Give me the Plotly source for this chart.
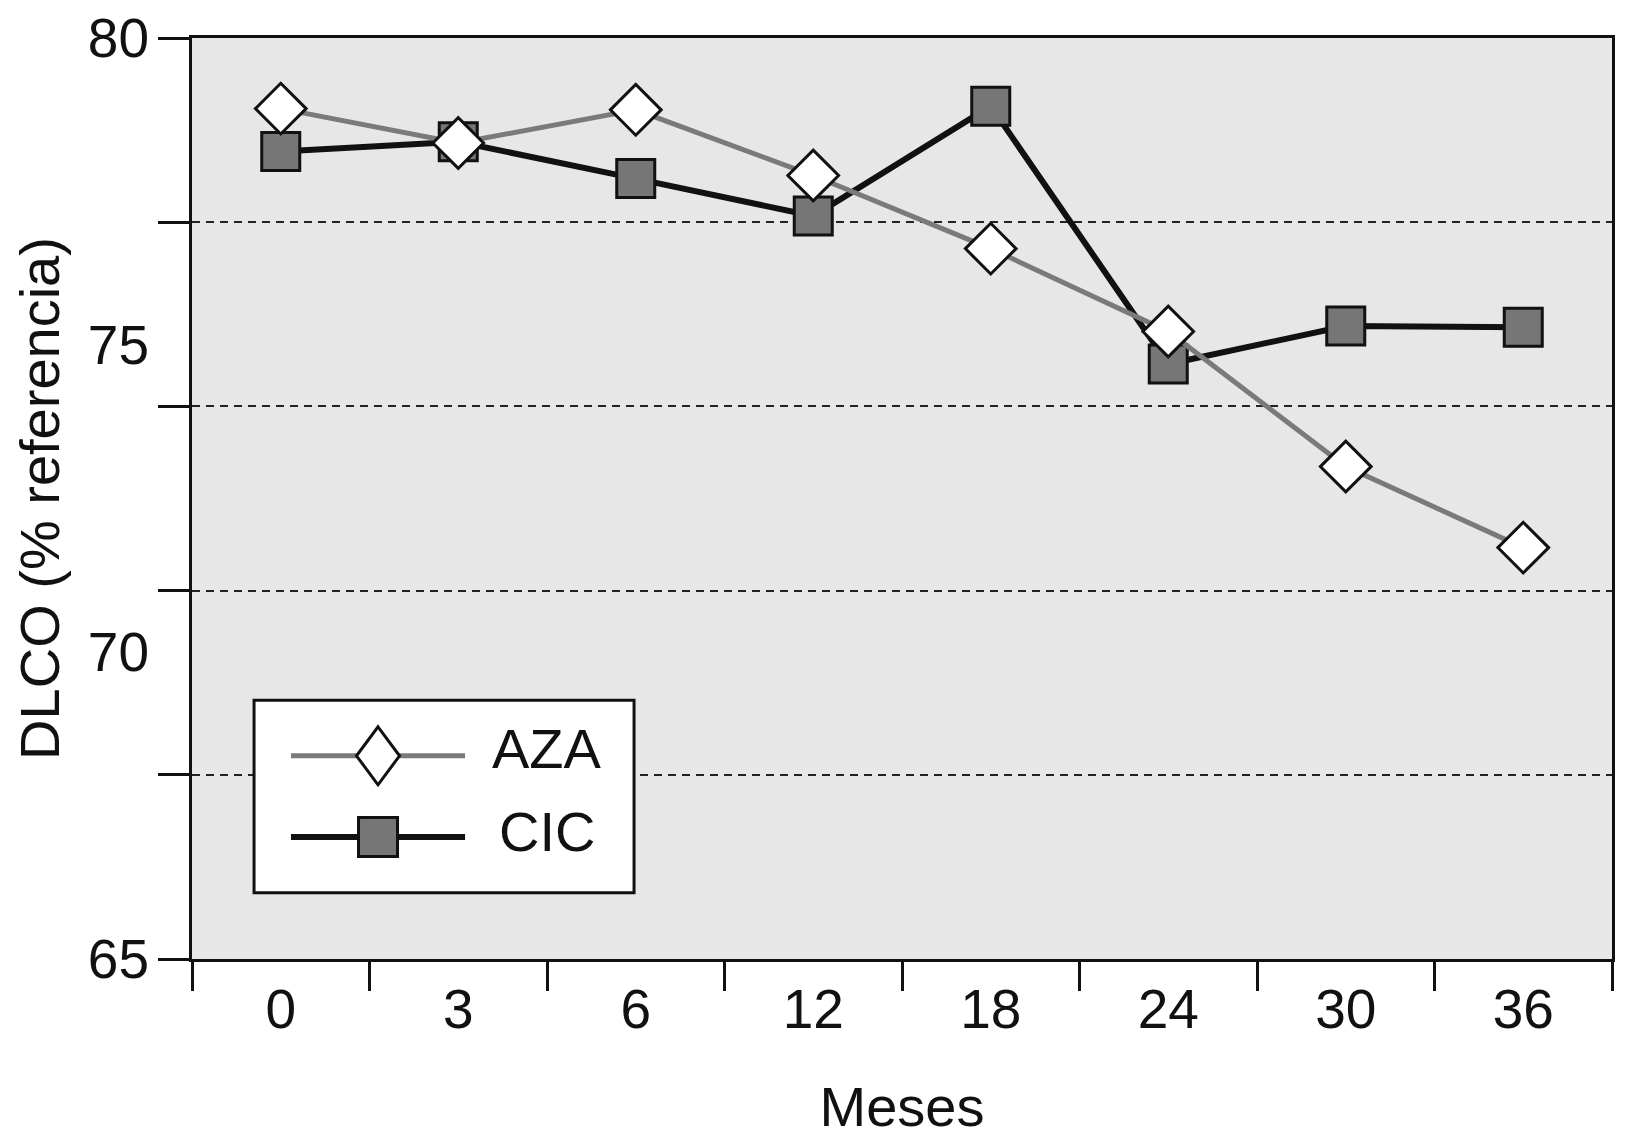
import plotly.graph_objects as go

# ---- data ----
months = ["0", "3", "6", "12", "18", "24", "30", "36"]
aza = [78.85, 78.29, 78.83, 77.76, 76.57, 75.22, 73.02, 71.70]
cic = [78.15, 78.31, 77.71, 77.10, 78.89, 74.69, 75.31, 75.29]
y_grid_vals = [65, 68, 71, 74, 77, 80]
y_label_vals = [65, 70, 75, 80]
y_label_text = ["65", "70", "75", "80"]

FONT = "Liberation Sans, Arial, Helvetica, sans-serif"
INK = "#111111"

fig = go.Figure()

fig.add_trace(go.Scatter(
    x=months, y=cic, name="CIC", mode="lines+markers",
    line=dict(color=INK, width=6),
    marker=dict(symbol="square", size=38, color="#767676",
                line=dict(color=INK, width=3)),
    showlegend=False,
))
fig.add_trace(go.Scatter(
    x=months, y=aza, name="AZA", mode="lines+markers", yaxis="y2",
    line=dict(color="#7a7a7a", width=5),
    marker=dict(symbol="diamond", size=39, color="white",
                line=dict(color=INK, width=3)),
    showlegend=False,
))

# ---- custom legend (box, sample lines, symbols, labels) ----
box = dict(x0=0.0437, x1=0.3113, y0=0.0719, y1=0.2809)
leg_x0, leg_x1, leg_xm = 0.0697, 0.1923, 0.131
aza_y, cic_y = 0.2206, 0.1325
shapes = [
    dict(type="rect", xref="paper", yref="paper", **box,
         fillcolor="white", line=dict(color=INK, width=3), layer="above"),
    dict(type="line", xref="paper", yref="paper", x0=leg_x0, x1=leg_x1,
         y0=aza_y, y1=aza_y, line=dict(color="#7a7a7a", width=5)),
    dict(type="line", xref="paper", yref="paper", x0=leg_x0, x1=leg_x1,
         y0=cic_y, y1=cic_y, line=dict(color=INK, width=6)),
    dict(type="path", xref="paper", yref="paper", xsizemode="pixel", ysizemode="pixel",
         xanchor=leg_xm, yanchor=aza_y,
         path="M0,29 L21.5,0 L0,-29 L-21.5,0 Z",
         fillcolor="white", line=dict(color=INK, width=3)),
    dict(type="path", xref="paper", yref="paper", xsizemode="pixel", ysizemode="pixel",
         xanchor=leg_xm, yanchor=cic_y,
         path="M-19.5,-19.5 L19.5,-19.5 L19.5,19.5 L-19.5,19.5 Z",
         fillcolor="#767676", line=dict(color=INK, width=3)),
]
annotations = [
    dict(text="AZA", xref="paper", yref="paper", x=0.25, y=aza_y + 0.008,
         xanchor="center", yanchor="middle", showarrow=False,
         font=dict(size=56, color=INK, family=FONT)),
    dict(text="CIC", xref="paper", yref="paper", x=0.25, y=cic_y + 0.006,
         xanchor="center", yanchor="middle", showarrow=False,
         font=dict(size=56, color=INK, family=FONT)),
]

fig.update_layout(
    width=1625, height=1147,
    margin=dict(l=184, r=21, t=30, b=196),
    paper_bgcolor="white",
    plot_bgcolor="#e7e7e7",
    font=dict(family=FONT, color=INK, size=54),
    shapes=shapes,
    annotations=annotations,
    xaxis=dict(
        type="category", categoryorder="array", categoryarray=months,
        range=[-0.5, 7.5], automargin=False,
        showline=True, linecolor=INK, linewidth=3, mirror=True,
        ticks="outside", tickson="boundaries", ticklen=29, tickwidth=3, tickcolor=INK,
        showgrid=False, zeroline=False,
        tickfont=dict(size=55),
        title=dict(text="Meses", font=dict(size=56), standoff=48),
    ),
    yaxis=dict(
        range=[65, 80], tickmode="array", tickvals=y_grid_vals,
        showticklabels=False, automargin=False,
        ticks="outside", ticklen=31, tickwidth=3, tickcolor=INK,
        showgrid=True, gridcolor="#222222", gridwidth=1.5, griddash="8px,6px",
        showline=True, linecolor=INK, linewidth=3, mirror=True, zeroline=False,
    ),
    yaxis2=dict(
        overlaying="y", side="left", range=[65, 80], automargin=False,
        tickmode="array", tickvals=y_label_vals, ticktext=y_label_text,
        ticks="outside", ticklen=31, tickcolor="rgba(0,0,0,0)",
        ticklabeloverflow="allow",
        showgrid=False, showline=False, zeroline=False,
        tickfont=dict(size=55),
        title=dict(text="DLCO (% referencia)", font=dict(size=56), standoff=38),
    ),
)

fig.write_html("out.html")
